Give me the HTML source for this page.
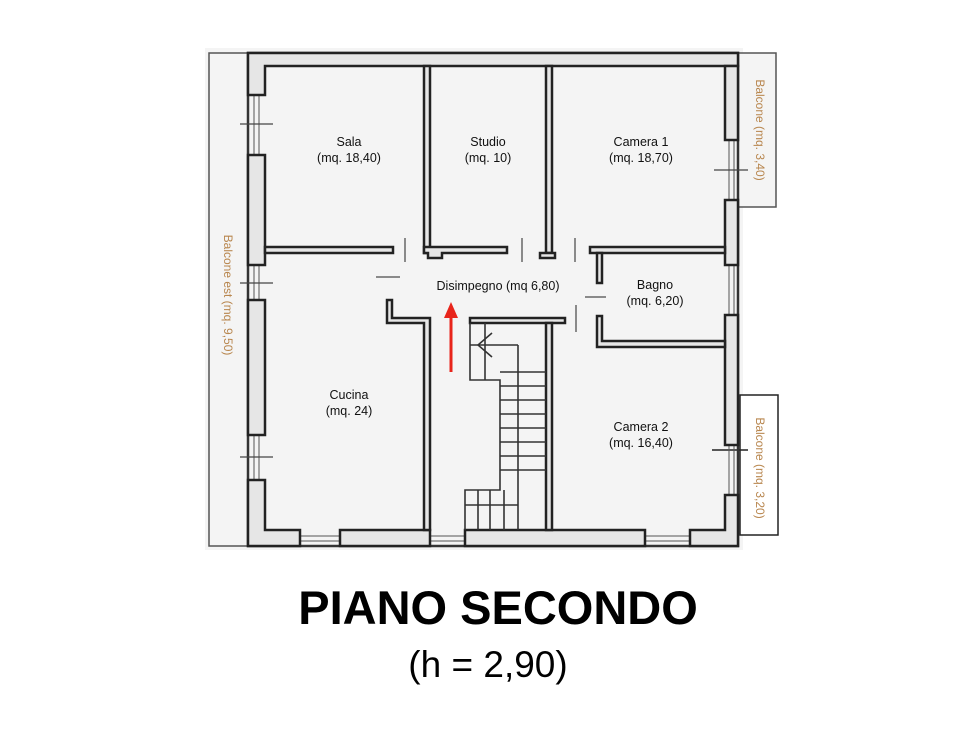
<!DOCTYPE html>
<html><head><meta charset="utf-8"><style>
html,body{margin:0;padding:0;background:#fff;}
svg{display:block;}
</style></head><body>
<svg width="980" height="741" viewBox="0 0 980 741" xmlns="http://www.w3.org/2000/svg" font-family="Liberation Sans, Arial, sans-serif">
<rect x="0" y="0" width="980" height="741" fill="#fff"/>
<rect x="205" y="48" width="538" height="502" fill="#f4f4f4"/>
<!-- balconies -->
<rect x="209" y="53" width="39" height="493" fill="#f4f4f4" stroke="#555" stroke-width="1.5"/>
<rect x="738" y="53" width="38" height="154" fill="#f4f4f4" stroke="#555" stroke-width="1.5"/>
<rect x="740" y="395" width="38" height="140" fill="#fff" stroke="#222" stroke-width="1.5"/>
<line x1="712" y1="450" x2="748" y2="450" stroke="#222" stroke-width="1.5"/>
<!-- outer line -->
<rect x="248" y="53" width="490" height="493" fill="none" stroke="#333" stroke-width="2.5"/>
<!-- window double lines -->
<g stroke="#555" stroke-width="1">
<line x1="254" y1="95" x2="254" y2="155"/><line x1="259" y1="95" x2="259" y2="155"/>
<line x1="254" y1="265" x2="254" y2="300"/><line x1="259" y1="265" x2="259" y2="300"/>
<line x1="254" y1="435" x2="254" y2="480"/><line x1="259" y1="435" x2="259" y2="480"/>
<line x1="729" y1="140" x2="729" y2="200"/><line x1="734" y1="140" x2="734" y2="200"/>
<line x1="729" y1="265" x2="729" y2="315"/><line x1="734" y1="265" x2="734" y2="315"/>
<line x1="729" y1="445" x2="729" y2="495"/><line x1="734" y1="445" x2="734" y2="495"/>
<line x1="300" y1="536" x2="340" y2="536"/><line x1="300" y1="541" x2="340" y2="541"/>
<line x1="430" y1="536" x2="465" y2="536"/><line x1="430" y1="541" x2="465" y2="541"/>
<line x1="645" y1="536" x2="690" y2="536"/><line x1="645" y1="541" x2="690" y2="541"/>
</g>
<g stroke="#444" stroke-width="1.3">
<line x1="240" y1="124" x2="273" y2="124"/><line x1="240" y1="283" x2="273" y2="283"/>
<line x1="240" y1="457" x2="273" y2="457"/><line x1="714" y1="170" x2="748" y2="170"/>
</g>
<!-- wall blocks -->
<g fill="#e6e6e6" stroke="#222" stroke-width="2.5">
<path d="M248 53 H738 V66 H265 V95 H248 Z"/>
<rect x="248" y="155" width="17" height="110"/>
<rect x="248" y="300" width="17" height="135"/>
<path d="M248 480 H265 V530 H300 V546 H248 Z"/>
<rect x="340" y="530" width="90" height="16"/>
<rect x="465" y="530" width="180" height="16"/>
<path d="M690 530 H725 V495 H738 V546 H690 Z"/>
<path d="M725 66 H738 V140 H725 Z"/>
<rect x="725" y="200" width="13" height="65"/>
<rect x="725" y="315" width="13" height="130"/>
<rect x="424" y="66" width="6" height="187"/>
<rect x="546" y="66" width="6" height="187"/>
<rect x="265" y="247" width="128" height="6"/>
<path d="M424 247 H507 V253 H442 V258 H428 V253 H424 Z"/>
<path d="M540 253 H555 V258 H540 Z"/>
<rect x="590" y="247" width="135" height="6"/>
<rect x="597" y="253" width="5" height="30"/>
<path d="M597 316 H602 V341 H725 V347 H597 Z"/>
<path d="M387 300 H392 V318 H430 V530 H424 V323 H387 Z"/>
<rect x="470" y="318" width="95" height="5"/>
<rect x="546" y="323" width="6" height="207"/>
</g>
<!-- stairs -->
<g fill="none" stroke="#333" stroke-width="1.6">
<path d="M470 323 V380 H500 V490 H465 V530"/>
<line x1="485" y1="323" x2="485" y2="380"/>
<line x1="470" y1="345" x2="518" y2="345"/>
<line x1="518" y1="345" x2="518" y2="530"/>
<path d="M492 333 L478 345 L492 357"/>
<line x1="500" y1="372" x2="546" y2="372"/>
<line x1="500" y1="386" x2="546" y2="386"/>
<line x1="500" y1="400" x2="546" y2="400"/>
<line x1="500" y1="414" x2="546" y2="414"/>
<line x1="500" y1="428" x2="546" y2="428"/>
<line x1="500" y1="442" x2="546" y2="442"/>
<line x1="500" y1="456" x2="546" y2="456"/>
<line x1="500" y1="470" x2="546" y2="470"/>
<line x1="465" y1="505" x2="518" y2="505"/>
<line x1="478" y1="490" x2="478" y2="530"/>
<line x1="490" y1="490" x2="490" y2="530"/>
<line x1="504" y1="490" x2="504" y2="530"/>
</g>
<!-- door marks -->
<g stroke="#666" stroke-width="1.5">
<line x1="405" y1="238" x2="405" y2="262"/>
<line x1="376" y1="277" x2="400" y2="277"/>
<line x1="522" y1="238" x2="522" y2="262"/>
<line x1="575" y1="238" x2="575" y2="262"/>
<line x1="585" y1="297" x2="606" y2="297"/>
<line x1="576" y1="305" x2="576" y2="332"/>
</g>
<!-- arrow -->
<line x1="451" y1="372" x2="451" y2="316" stroke="#e8251b" stroke-width="3"/>
<path d="M444 318 L451 302 L458 318 Z" fill="#e8251b"/>
<!-- labels -->
<g font-size="12.5" fill="#111" text-anchor="middle">
<text x="349" y="146">Sala</text><text x="349" y="162">(mq. 18,40)</text>
<text x="488" y="146">Studio</text><text x="488" y="162">(mq. 10)</text>
<text x="641" y="146">Camera 1</text><text x="641" y="162">(mq. 18,70)</text>
<text x="498" y="290">Disimpegno (mq 6,80)</text>
<text x="655" y="289">Bagno</text><text x="655" y="305">(mq. 6,20)</text>
<text x="349" y="399">Cucina</text><text x="349" y="415">(mq. 24)</text>
<text x="641" y="431">Camera 2</text><text x="641" y="447">(mq. 16,40)</text>
</g>
<g font-size="12" fill="#b8864e" text-anchor="middle">
<text transform="translate(224,295) rotate(90)">Balcone est (mq. 9,50)</text>
<text transform="translate(756,130) rotate(90)">Balcone (mq. 3,40)</text>
<text transform="translate(756,468) rotate(90)">Balcone (mq. 3,20)</text>
</g>
<text x="498" y="624" font-size="47" font-weight="bold" text-anchor="middle" fill="#000">PIANO SECONDO</text>
<text x="488" y="677" font-size="37" text-anchor="middle" fill="#000">(h = 2,90)</text>
</svg>
</body></html>
